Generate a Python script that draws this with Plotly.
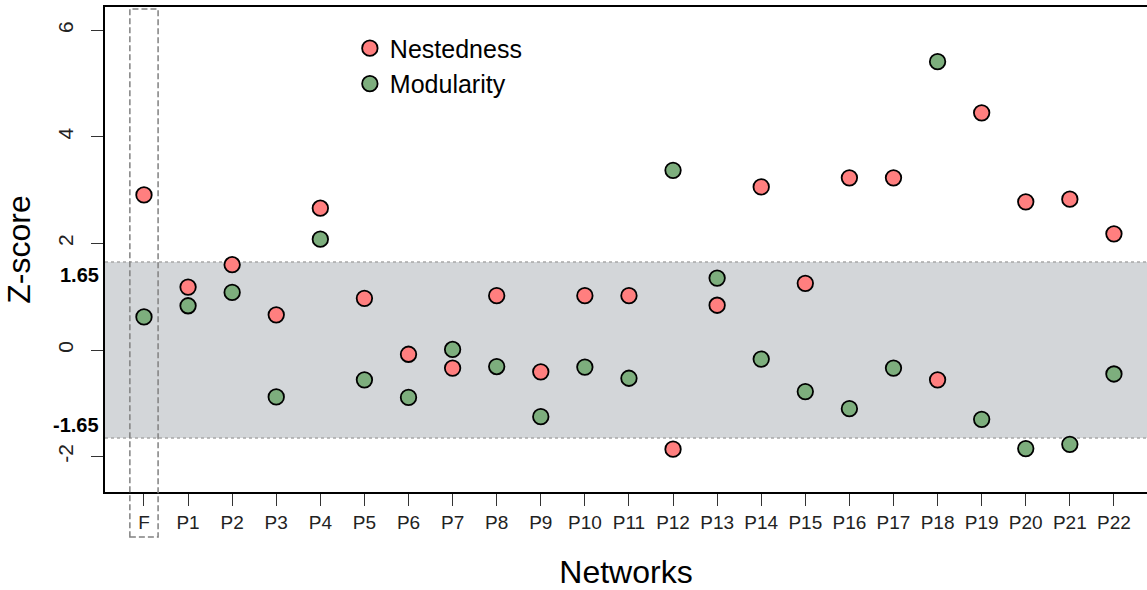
import plotly.graph_objects as go

categories = ["F"] + [f"P{i}" for i in range(1, 23)]
nestedness = [2.91, 1.18, 1.60, 0.66, 2.66, 0.97, -0.08, -0.34, 1.02, -0.41, 1.02, 1.02,
              -1.86, 0.84, 3.06, 1.25, 3.23, 3.23, -0.56, 4.45, 2.78, 2.83, 2.18]
modularity = [0.62, 0.83, 1.08, -0.88, 2.08, -0.56, -0.89, 0.01, -0.31, -1.25, -0.32, -0.53,
              3.37, 1.35, -0.17, -0.78, -1.10, -0.34, 5.41, -1.30, -1.85, -1.77, -0.45]
y_ticks = [-2, 0, 2, 4, 6]
threshold = 1.65

xpos = list(range(len(categories)))
XMIN, XMAX = -0.884, 22.75
YMIN, YMAX = -2.664, 6.435

RED = "#FF7F7F"
GREEN = "#7DAE7D"
FONT = "Liberation Sans, Arial, sans-serif"

fig = go.Figure()
fig.add_trace(go.Scatter(x=xpos, y=nestedness, mode="markers", name="Nestedness",
                         legendgroup="a",
                         marker=dict(size=15.5, color=RED, line=dict(color="black", width=1.8))))
fig.add_trace(go.Scatter(x=xpos, y=modularity, mode="markers", name="Modularity",
                         legendgroup="b",
                         marker=dict(size=15.5, color=GREEN, line=dict(color="black", width=1.8))))

# significance band
fig.add_shape(type="rect", xref="paper", yref="y", x0=0, x1=1, y0=-threshold, y1=threshold,
              fillcolor="#D3D6D9", line=dict(width=0), layer="below")
for yv in (threshold, -threshold):
    fig.add_shape(type="line", xref="paper", yref="y", x0=0, x1=1, y0=yv, y1=yv,
                  line=dict(color="#A8A8A8", width=1.5, dash="dot"), layer="below")

# dashed box around F
def xp(v):
    return (v - XMIN) / (XMAX - XMIN)
fig.add_shape(type="rect", xref="paper", yref="paper", x0=xp(-0.32), x1=xp(0.32),
              y0=-0.093, y1=0.996, line=dict(color="#808080", width=1.5, dash="6px,3px"),
              fillcolor="rgba(0,0,0,0)", layer="above")

for yv, anchor, shift in ((threshold, "top", 0), (-threshold, "bottom", 0)):
    fig.add_annotation(x=-0.004, xref="paper", y=yv, yref="y", text=f"<b>{yv:g}</b>",
                       showarrow=False, xanchor="right", yanchor=anchor, yshift=shift,
                       font=dict(family=FONT, size=20, color="black"))

fig.update_layout(
    width=1147, height=590,
    margin=dict(l=105, r=0, t=7, b=98),
    plot_bgcolor="white", paper_bgcolor="white",
    font=dict(family=FONT, color="black"),
    showlegend=True,
    legend=dict(x=0.235, y=0.962, xanchor="left", yanchor="top", bgcolor="rgba(0,0,0,0)",
                font=dict(family=FONT, size=25, color="black"), tracegroupgap=0),
    xaxis=dict(range=[XMIN, XMAX], tickmode="array", tickvals=xpos, ticktext=categories,
               showgrid=False, zeroline=False, showline=True, linecolor="black", linewidth=1.5,
               mirror=True, ticks="outside", ticklen=12, tickwidth=1.3, tickcolor="#333333",
               tickfont=dict(family=FONT, size=19, color="#222222"),
               title=dict(text="Networks", font=dict(family=FONT, size=32, color="black"), standoff=30)),
    yaxis=dict(range=[YMIN, YMAX], tickmode="array", tickvals=y_ticks,
               ticktext=[str(v) for v in y_ticks], tickangle=-90,
               showgrid=False, zeroline=False, showline=True, linecolor="black", linewidth=1.5,
               ticks="outside", ticklen=12, tickwidth=1.3, tickcolor="#333333",
               ticklabelstandoff=10,
               tickfont=dict(family=FONT, size=21, color="#222222"),
               title=dict(text="Z-score", font=dict(family=FONT, size=32, color="black"), standoff=14)),
)

fig.write_html("out.html")
